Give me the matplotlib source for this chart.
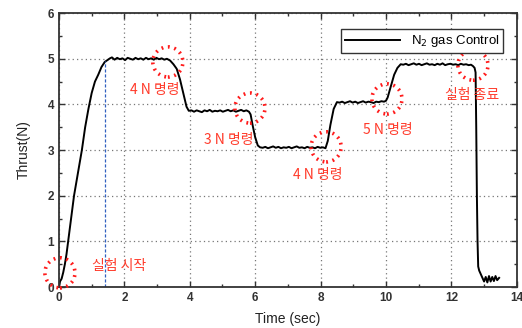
import numpy as np
import matplotlib.pyplot as plt
from matplotlib.ticker import MultipleLocator

# ---------- data -------------------------------------------------------------
time_s = [
    0.00, 0.03, 0.08, 0.13, 0.18, 0.23, 0.28, 0.37, 0.46, 0.58, 0.70, 0.80, 0.90,
    1.00, 1.10, 1.20, 1.30, 1.40, 1.50, 1.56,
    1.62, 1.70, 1.78, 1.86, 1.94, 2.02, 2.10, 2.18, 2.26, 2.34, 2.42, 2.50, 2.58,
    2.66, 2.74, 2.82, 2.90, 2.98, 3.06, 3.14, 3.22, 3.30,
    3.40, 3.50, 3.60, 3.70, 3.80, 3.90, 3.97,
    4.05, 4.13, 4.21, 4.29, 4.37, 4.45, 4.53, 4.61, 4.69, 4.77, 4.85, 4.93, 5.01,
    5.09, 5.17, 5.25, 5.33, 5.41, 5.49, 5.57, 5.65, 5.73, 5.81,
    5.86, 5.92, 6.00, 6.08, 6.15,
    6.23, 6.31, 6.39, 6.47, 6.55, 6.63, 6.71, 6.79, 6.87, 6.95, 7.03, 7.11, 7.19,
    7.27, 7.35, 7.43, 7.51, 7.59, 7.67, 7.75, 7.83, 7.91, 7.99, 8.07, 8.15,
    8.22, 8.30, 8.40, 8.50,
    8.58, 8.66, 8.74, 8.82, 8.90, 8.98, 9.06, 9.14, 9.22, 9.30, 9.38, 9.46, 9.54,
    9.62, 9.70, 9.78, 9.86, 9.94, 10.00,
    10.05, 10.15, 10.25, 10.35, 10.45,
    10.53, 10.61, 10.69, 10.77, 10.85, 10.93, 11.01, 11.09, 11.17, 11.25, 11.33,
    11.41, 11.49, 11.57, 11.65, 11.73, 11.81, 11.89, 11.97, 12.05, 12.13, 12.21,
    12.29, 12.37, 12.45, 12.53, 12.60,
    12.66, 12.71, 12.74, 12.76, 12.78, 12.80, 12.82, 12.85, 12.90,
    12.95, 13.00, 13.05, 13.10, 13.15, 13.20, 13.25, 13.30, 13.35, 13.40, 13.46,
]
thrust_n = [
    0.00, 0.12, 0.18, 0.32, 0.50, 0.72, 1.00, 1.50, 2.00, 2.50, 3.00, 3.50, 3.90,
    4.25, 4.50, 4.65, 4.82, 4.93, 4.98, 5.01,
    5.03, 4.98, 5.02, 4.99, 5.01, 4.97, 5.02, 5.00, 4.98, 5.02, 4.99, 5.01, 4.98,
    5.02, 4.99, 5.01, 4.98, 5.02, 4.99, 5.01, 4.98, 5.00,
    4.96, 4.88, 4.78, 4.55, 4.25, 3.95, 3.86,
    3.87, 3.84, 3.87, 3.85, 3.83, 3.87, 3.85, 3.88, 3.84, 3.86, 3.85, 3.87, 3.84,
    3.86, 3.88, 3.85, 3.87, 3.84, 3.86, 3.88, 3.85, 3.87, 3.84,
    3.78, 3.55, 3.28, 3.10, 3.06,
    3.05, 3.07, 3.04, 3.06, 3.08, 3.05, 3.07, 3.04, 3.06, 3.05, 3.07, 3.04, 3.06,
    3.08, 3.05, 3.06, 3.04, 3.07, 3.05, 3.06, 3.04, 3.07, 3.05, 3.06, 3.04,
    3.20, 3.55, 3.90, 4.05,
    4.04, 4.06, 4.03, 4.05, 4.07, 4.04, 4.06, 4.03, 4.05, 4.07, 4.04, 4.06, 4.05,
    4.03, 4.06, 4.05, 4.07, 4.06, 4.08,
    4.15, 4.40, 4.65, 4.80, 4.88,
    4.87, 4.89, 4.86, 4.88, 4.90, 4.87, 4.89, 4.86, 4.88, 4.90, 4.87, 4.88,
    4.86, 4.89, 4.87, 4.90, 4.86, 4.88, 4.89, 4.87, 4.88, 4.86,
    4.89, 4.87, 4.88, 4.86, 4.87,
    4.84, 4.80, 4.70, 3.50, 2.00, 1.00, 0.45, 0.36, 0.28,
    0.20, 0.12, 0.22, 0.10, 0.24, 0.12, 0.22, 0.13, 0.24, 0.15, 0.20,
]

marker_t = 1.41          # blue dashed line
marker_top = 4.95

circle_t = [0.03, 3.33, 5.84, 8.17, 10.03, 12.66]
circle_y = [0.31, 4.93, 3.92, 3.07, 4.12, 4.86]

note_text = ["실험 시작", "4 N 명령", "3 N 명령", "4 N 명령", "5 N 명령", "실험 종료"]
note_t = [1.84, 2.93, 5.20, 7.90, 10.05, 12.64]
note_y = [0.46, 4.32, 3.22, 2.45, 3.44, 4.20]

# ---------- plot -------------------------------------------------------------
plt.rcParams["font.family"] = ["Liberation Sans", "Noto Sans CJK KR", "DejaVu Sans"]

fig = plt.figure(figsize=(5.22, 3.28), dpi=100)
ax = fig.add_axes([0.113, 0.125, 0.877, 0.835])

ax.plot(time_s, thrust_n, color="black", linewidth=1.4, label="N$_2$ gas Control")
ax.plot([marker_t, marker_t], [0, marker_top], color="#3060c0", linestyle="--",
        linewidth=0.9, dashes=(2.5, 1.5))

ax.scatter(circle_t, circle_y, s=470, facecolors="none", edgecolors="#ff1a1a",
           linewidths=2.6, linestyles=(0, (0.5, 1.3)), zorder=5, clip_on=False)

for txt, t, y in zip(note_text, note_t, note_y):
    ax.text(t, y, txt, color="#ff3a2a", fontsize=10, ha="center", va="center",
            fontweight="medium", family=["Noto Sans CJK KR", "DejaVu Sans"])

ax.set_xlim(0, 14)
ax.set_ylim(0, 6)
ax.xaxis.set_major_locator(MultipleLocator(2))
ax.xaxis.set_minor_locator(MultipleLocator(1))
ax.yaxis.set_major_locator(MultipleLocator(1))
ax.yaxis.set_minor_locator(MultipleLocator(0.5))
ax.tick_params(which="both", direction="in", top=True, right=True,
               labelsize=8.5, colors="#333333", width=1.0)
ax.tick_params(which="major", length=4)
ax.tick_params(which="minor", length=2.5)
for lbl in ax.get_xticklabels() + ax.get_yticklabels():
    lbl.set_fontweight("bold")
ax.grid(True, which="major", linestyle=(0, (1, 2.5)), linewidth=0.9, color="#777777")

for sp in ax.spines.values():
    sp.set_linewidth(1.3)
    sp.set_color("#333333")

ax.set_xlabel("Time (sec)", fontsize=10, color="#222222", labelpad=6)
ax.set_ylabel("Thrust(N)", fontsize=10, color="#222222", labelpad=12)

leg = ax.legend(loc="upper right", fontsize=9.5, handlelength=4.2, fancybox=False,
                framealpha=1, edgecolor="#333333", borderpad=0.3,
                bbox_to_anchor=(0.985, 0.965))
leg.get_frame().set_linewidth(1.0)

fig.savefig("out.png", dpi=100)
